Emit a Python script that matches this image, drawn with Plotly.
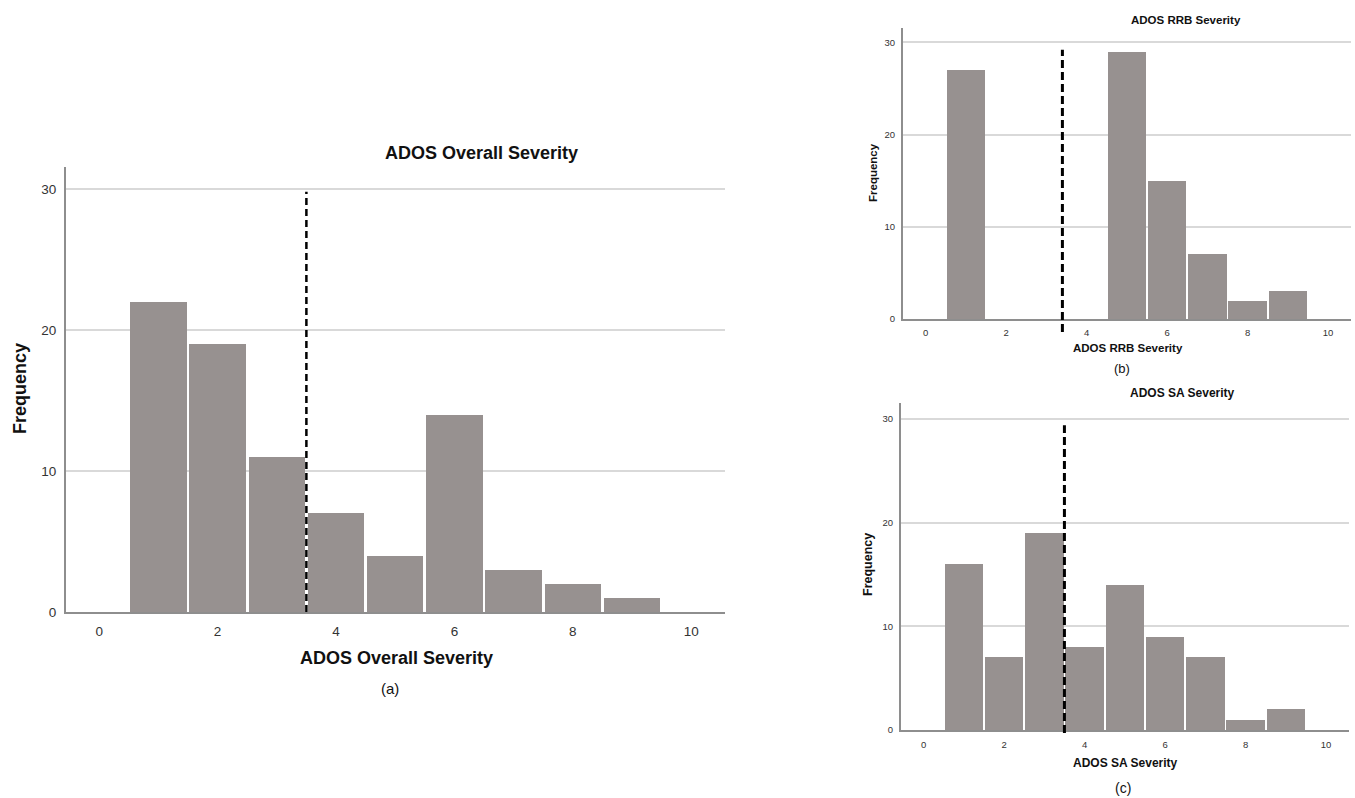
import plotly.graph_objects as go

# ---- data ----
severity_bins = [1, 2, 3, 4, 5, 6, 7, 8, 9]
overall_freq = [22, 19, 11, 7, 4, 14, 3, 2, 1]
rrb_freq = [27, 0, 0, 0, 29, 15, 7, 2, 3]
sa_freq = [16, 7, 19, 8, 14, 9, 7, 1, 2]
x_ticks = [0, 2, 4, 6, 8, 10]
y_ticks = [0, 10, 20, 30]
cutoff_overall = 3.5
cutoff_rrb = 3.4
cutoff_sa = 3.5

W, H = 1355, 798
FIG_H = 806
FONT = "Liberation Sans"
BAR = "#979190"
GRID = "#d9d9d9"
AXLINE = "#8e8e8e"
XR = [-0.56, 10.57]
YR = [0, 31.55]


def px(x):
    return x / W


def py(y):
    return 1 - y / H


fig = go.Figure()
for vals, xa, ya in [(overall_freq, "x", "y"), (rrb_freq, "x2", "y2"), (sa_freq, "x3", "y3")]:
    fig.add_trace(go.Bar(x=severity_bins, y=vals, xaxis=xa, yaxis=ya, width=0.955,
                         marker=dict(color=BAR, line=dict(width=0)), showlegend=False,
                         hoverinfo="x+y"))


def xaxis(dom, anchor, fs, stand):
    return dict(domain=dom, anchor=anchor, range=XR, tickvals=x_ticks, ticks="",
                showline=True, linecolor=AXLINE, linewidth=2, showgrid=False, zeroline=False,
                tickfont=dict(family=FONT, size=fs, color="#333"), ticklabelstandoff=stand,
                fixedrange=True)


def yaxis(dom, anchor, fs, stand):
    return dict(domain=dom, anchor=anchor, range=YR, tickvals=y_ticks, ticks="",
                showline=True, linecolor=AXLINE, linewidth=2, showgrid=True, gridcolor=GRID,
                gridwidth=1.5, zeroline=False,
                tickfont=dict(family=FONT, size=fs, color="#333"), ticklabelstandoff=stand,
                fixedrange=True)


fig.update_layout(
    width=W, height=FIG_H, margin=dict(l=0, r=0, t=0, b=0),
    paper_bgcolor="white", plot_bgcolor="white", bargap=0,
    xaxis=xaxis([px(66), px(725)], "y", 13.5, 6),
    yaxis=yaxis([py(612), py(167)], "x", 13.5, 5),
    xaxis2=xaxis([px(903), px(1351)], "y2", 9.5, 4),
    yaxis2=yaxis([py(319), py(28)], "x2", 9.5, 4),
    xaxis3=xaxis([px(901), px(1349)], "y3", 9.5, 5),
    yaxis3=yaxis([py(730), py(403)], "x3", 9.5, 4),
)

# cutoff dashed lines
fig.add_shape(type="line", xref="x", yref="y", x0=cutoff_overall, x1=cutoff_overall,
              y0=0, y1=29.8, line=dict(color="black", width=2.5, dash="7px,4px"))
fig.add_shape(type="line", xref="x2", yref="y2 domain", x0=cutoff_rrb, x1=cutoff_rrb,
              y0=-1.4 / YR[1], y1=29.2 / YR[1], line=dict(color="black", width=3, dash="8px,4px"))
fig.add_shape(type="line", xref="x3", yref="y3 domain", x0=cutoff_sa, x1=cutoff_sa,
              y0=-0.3 / YR[1], y1=29.4 / YR[1], line=dict(color="black", width=3, dash="8px,4px"))


def txt(s, x, y, size, bold=True, angle=0):
    fig.add_annotation(text=s, x=px(x), y=py(y), xref="paper", yref="paper",
                       xanchor="center", yanchor="middle", showarrow=False, textangle=angle,
                       font=dict(family=FONT, size=size, color="#111",
                                 weight="bold" if bold else "normal"))


# panel (a)
txt("ADOS Overall Severity", 481, 153, 18)
txt("ADOS Overall Severity", 396, 658, 18)
txt("(a)", 390, 688, 15, bold=False)
txt("Frequency", 20, 389, 18, angle=-90)
# panel (b)
txt("ADOS RRB Severity", 1186, 20, 11.5)
txt("ADOS RRB Severity", 1128, 348, 11.5)
txt("(b)", 1122, 369, 13, bold=False)
txt("Frequency", 873, 173, 11.5, angle=-90)
# panel (c)
txt("ADOS SA Severity", 1182, 393, 12)
txt("ADOS SA Severity", 1125, 763, 12)
txt("(c)", 1123, 788, 14, bold=False)
txt("Frequency", 868, 565, 12.5, angle=-90)

fig.write_html("out.html", config={"displayModeBar": False},
               post_script="document.body.style.margin='0';document.body.style.overflow='hidden';")
